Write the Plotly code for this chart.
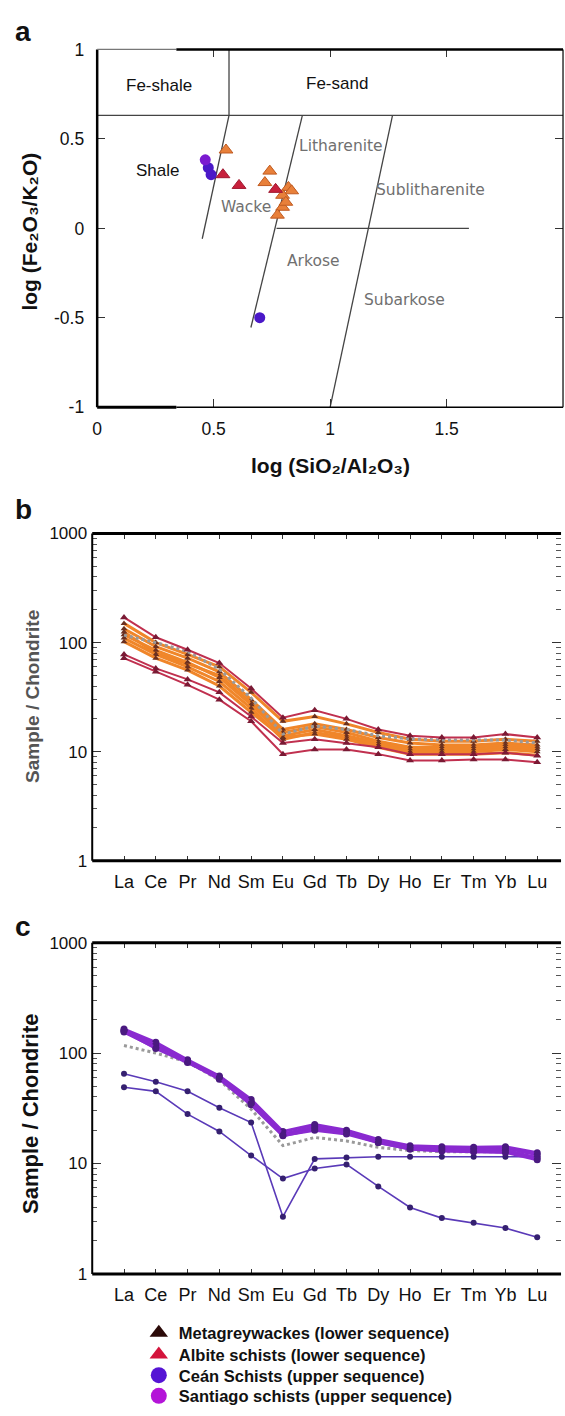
import plotly.graph_objects as go

W, H = 565, 1416

# ---------------- data ----------------
ree = ["La", "Ce", "Pr", "Nd", "Sm", "Eu", "Gd", "Tb", "Dy", "Ho", "Er", "Tm", "Yb", "Lu"]

# Panel a: Herron (1988) classification
mgw_x = [0.553, 0.741, 0.720, 0.821, 0.835, 0.796, 0.796, 0.774, 0.810]
mgw_y = [0.438, 0.320, 0.256, 0.229, 0.210, 0.185, 0.118, 0.074, 0.146]
alb_x = [0.540, 0.609, 0.766]
alb_y = [0.300, 0.240, 0.218]
cean_x = [0.477, 0.489, 0.698]
cean_y = [0.339, 0.300, -0.499]
sant_x = [0.464]
sant_y = [0.383]

# field boundaries [x0, y0, x1, y1]
bound_h_top = [0.0, 0.631, 2.0, 0.631]
bound_v_top = [0.566, 1.0, 0.566, 0.631]
bound_s1 = [0.566, 0.631, 0.451, -0.058]
bound_s2 = [0.881, 0.631, 0.660, -0.554]
bound_s3 = [1.268, 0.631, 1.000, -1.0]
bound_h0 = [0.770, 0.0, 1.596, 0.0]

field_names = ["Fe-shale", "Fe-sand", "Shale", "Litharenite", "Sublitharenite", "Wacke", "Arkose", "Subarkose"]
field_x = [0.264, 1.03, 0.26, 1.046, 1.43, 0.64, 0.927, 1.32]
field_y = [0.80, 0.81, 0.322, 0.46, 0.212, 0.118, -0.185, -0.40]
field_dark = [True, True, True, False, False, False, False, False]

# Panel b: lower sequence REE patterns (chondrite normalised)
alb_ree = [
    [170, 112, 86, 65, 38, 20.5, 24, 20, 16, 14, 13.5, 13.5, 14.5, 13.5],
    [78, 58, 46, 35, 21, 12, 13, 12, 11, 9.5, 9.5, 9.5, 9.8, 9.2],
    [72, 54, 41, 30, 19, 9.5, 10.5, 10.5, 9.5, 8.3, 8.3, 8.5, 8.5, 8.0],
]
mgw_ree = [
    [150, 100, 78, 60, 35, 19, 21, 18, 15, 13, 12.5, 12.5, 13, 12.5],
    [134, 92, 72, 54, 30, 16, 18, 16, 13.5, 12, 11.5, 11.5, 12, 11.5],
    [125, 80, 64, 50, 28, 15, 17, 15, 12.5, 11, 11, 11, 11.5, 11],
    [118, 85, 66, 48, 27, 14, 16, 14, 12, 10.5, 10.5, 10.5, 11, 10.5],
    [110, 78, 60, 44, 25, 13, 15, 13.5, 11.5, 10, 10, 10, 10.5, 10],
    [102, 72, 56, 40, 23, 13.5, 14.5, 13, 11, 9.5, 9.5, 9.5, 9.8, 9.3],
]
ref_ree = [117, 100, 83, 57, 31, 14.5, 17.2, 16, 14, 13.1, 12.8, 12.7, 12.8, 12]

# Panel c: upper sequence
sant_ree = [
    [165, 125, 87, 62, 38, 19.5, 22.5, 20, 16.5, 14.5, 14.2, 14, 14.2, 12.5],
    [160, 118, 85, 60, 36, 18.5, 21.5, 19.5, 16, 14, 13.8, 13.6, 13.8, 12],
    [155, 112, 83, 58, 34, 17.8, 20.5, 19, 15.5, 13.5, 13.2, 13, 13.2, 11.3],
    [158, 110, 82, 60, 35, 18, 20, 18.5, 15.5, 13.5, 13, 12.8, 12.6, 10.8],
]
cean_ree = [
    [65, 55, 45, 32, 23.5, 3.3, 11, 11.3, 11.5, 11.5, 11.5, 11.5, 11.5, 11.5],
    [49, 45, 28, 19.5, 11.8, 7.3, 9, 9.8, 6.2, 4.0, 3.2, 2.9, 2.6, 2.15],
]

legend_names = ["Metagreywackes (lower sequence)", "Albite schists (lower sequence)",
                "Ceán Schists (upper sequence)", "Santiago schists (upper sequence)"]
legend_colors = ["#2b0a08", "#d4143c", "#5514d4", "#b414d8"]
legend_symbols = ["triangle-up", "triangle-up", "circle", "circle"]

# ---------------- layout helpers ----------------
def dom_x(a, b):
    return [a / W, b / W]

def dom_y(top, bottom):
    return [1 - bottom / H, 1 - top / H]

FONT = "Arial, Liberation Sans, DejaVu Sans, sans-serif"
FONT_GRAY = "DejaVu Sans, Arial, sans-serif"
fig = go.Figure()

# ---- panel a ----
for b in [bound_h_top, bound_v_top, bound_s1, bound_s2, bound_s3, bound_h0]:
    fig.add_trace(go.Scatter(x=[b[0], b[2]], y=[b[1], b[3]], mode="lines",
                             line=dict(color="#444", width=1.3), showlegend=False,
                             hoverinfo="skip", xaxis="x", yaxis="y"))

fig.add_trace(go.Scatter(x=mgw_x, y=mgw_y, mode="markers", showlegend=False,
                         marker=dict(symbol="triangle-up", size=12, color="#e8803a",
                                     line=dict(color="#c05a20", width=1)),
                         xaxis="x", yaxis="y"))
fig.add_trace(go.Scatter(x=alb_x, y=alb_y, mode="markers", showlegend=False,
                         marker=dict(symbol="triangle-up", size=12, color="#c8203c",
                                     line=dict(color="#a01830", width=1)),
                         xaxis="x", yaxis="y"))
fig.add_trace(go.Scatter(x=cean_x, y=cean_y, mode="markers", showlegend=False,
                         marker=dict(symbol="circle", size=11, color="#4a18c8"),
                         xaxis="x", yaxis="y"))
fig.add_trace(go.Scatter(x=sant_x, y=sant_y, mode="markers", showlegend=False,
                         marker=dict(symbol="circle", size=11, color="#7a1ad0"),
                         xaxis="x", yaxis="y"))

# ---- panel b ----
for s in mgw_ree:
    fig.add_trace(go.Scatter(x=ree, y=s, mode="lines+markers", showlegend=False,
                             line=dict(color="#f0862a", width=3),
                             marker=dict(symbol="triangle-up", size=6, color="#6a3020"),
                             xaxis="x2", yaxis="y2"))
fig.add_trace(go.Scatter(x=ree, y=ref_ree, mode="lines", showlegend=False,
                         line=dict(color="#9a9a9a", width=3, dash="dot"),
                         xaxis="x2", yaxis="y2"))
for s in alb_ree:
    fig.add_trace(go.Scatter(x=ree, y=s, mode="lines+markers", showlegend=False,
                             line=dict(color="#c0304f", width=2),
                             marker=dict(symbol="triangle-up", size=7, color="#7a1a34"),
                             xaxis="x2", yaxis="y2"))

# ---- panel c ----
fig.add_trace(go.Scatter(x=ree, y=ref_ree, mode="lines", showlegend=False,
                         line=dict(color="#9a9a9a", width=3, dash="dot"),
                         xaxis="x3", yaxis="y3"))
for s in cean_ree:
    fig.add_trace(go.Scatter(x=ree, y=s, mode="lines+markers", showlegend=False,
                             line=dict(color="#5a3ab8", width=1.6),
                             marker=dict(symbol="circle", size=6, color="#352070"),
                             xaxis="x3", yaxis="y3"))
for s in sant_ree:
    fig.add_trace(go.Scatter(x=ree, y=s, mode="lines+markers", showlegend=False,
                             line=dict(color="#8a2ad0", width=3),
                             marker=dict(symbol="circle", size=7, color="#4a1a80"),
                             xaxis="x3", yaxis="y3"))

# ---- legend entries (one small legend per row) ----
legend_rows_px = [1342, 1364, 1385, 1406]
legend_layout = {}
for k, (n, c, sym, ypx) in enumerate(zip(legend_names, legend_colors, legend_symbols, legend_rows_px)):
    lname = "legend" if k == 0 else f"legend{k + 1}"
    fig.add_trace(go.Scatter(x=[None], y=[None], mode="markers", name=n, legend=lname,
                             marker=dict(symbol=sym, size=17, color=c),
                             xaxis="x3", yaxis="y3"))
    legend_layout[lname] = dict(x=135 / W, y=1 - ypx / H, xanchor="left", yanchor="middle",
                                font=dict(family=FONT, size=16.5, color="#111", weight="bold"),
                                bgcolor="rgba(0,0,0,0)", itemwidth=30, borderwidth=0)

# ---------------- axes ----------------
tickfont_a = dict(family=FONT, size=17.5, color="#111")
tickfont_y = dict(family=FONT, size=17, color="#111")
minor_vals = [m * 10 ** k for k in range(0, 3) for m in range(2, 10)]

fig.update_layout(
    width=W, height=H, margin=dict(l=0, r=0, t=0, b=0),
    paper_bgcolor="white", plot_bgcolor="white",
    showlegend=True,
    xaxis=dict(domain=dom_x(93, 563), range=[0, 2], tickvals=[0, 0.5, 1, 1.5],
               ticktext=["0", "0.5", "1", "1.5"], ticks="inside", ticklen=8, tickwidth=1.2,
               tickcolor="#333", mirror="ticks", showline=False, showgrid=False, zeroline=False,
               tickfont=tickfont_a, ticklabelstandoff=9, anchor="y"),
    yaxis=dict(domain=dom_y(40, 403), range=[-1, 1], tickvals=[-1, -0.5, 0, 0.5, 1],
               ticktext=["-1", "-0.5", "0", "0.5", "1"], ticks="inside", ticklen=8, tickwidth=1.2,
               tickcolor="#333", mirror="ticks", showline=False, showgrid=False, zeroline=False,
               tickfont=tickfont_a, ticklabelstandoff=12, anchor="x"),
    **legend_layout,
)
for i, (top, bot) in zip([2, 3], [(531, 863), (946, 1282)]):
    fig.update_layout(**{
        f"xaxis{i}": dict(domain=dom_x(88, 561), range=[-1, 13.75], type="category",
                          categoryorder="array", categoryarray=ree,
                          ticks="inside", ticklen=5, tickwidth=1.2, tickcolor="#333",
                          mirror="ticks", showline=False, showgrid=False, zeroline=False,
                          tickfont=dict(family=FONT, size=18, color="#111"),
                          ticklabelstandoff=8, anchor=f"y{i}"),
        f"yaxis{i}": dict(domain=dom_y(top, bot), type="log", range=[0, 3],
                          tickvals=[1, 10, 100, 1000], ticktext=["1", "10", "100", "1000"],
                          ticks="inside", ticklen=9, tickwidth=1.4, tickcolor="#333",
                          minor=dict(tickvals=minor_vals, ticks="inside", ticklen=5,
                                     tickwidth=1, tickcolor="#555"),
                          mirror="ticks", showline=False, showgrid=False, zeroline=False,
                          tickfont=tickfont_y, ticklabelstandoff=4, anchor=f"x{i}"),
    })

# ---------------- frames ----------------
shapes = []
def frame_line(xr, yr, x0, y0, x1, y1, w, c="black"):
    shapes.append(dict(type="line", xref=xr, yref=yr, x0=x0, y0=y0, x1=x1, y1=y1,
                       line=dict(color=c, width=w)))

frame_line("x domain", "y domain", 0, 0, 0, 1, 2.5)
frame_line("x domain", "y domain", 0, 1, 0.17, 1, 1.2, "#777")
frame_line("x domain", "y domain", 0.17, 1, 1, 1, 2.5)
frame_line("x domain", "y domain", 0, 0, 0.17, 0, 3)
frame_line("x domain", "y domain", 0.17, 0, 1, 0, 1.5)
frame_line("x domain", "y domain", 1, 0, 1, 1, 1.2)
for i in [2, 3]:
    frame_line(f"x{i} domain", f"y{i} domain", 0, 0, 0, 1, 2)
    frame_line(f"x{i} domain", f"y{i} domain", 0, 1, 1, 1, 3)
    frame_line(f"x{i} domain", f"y{i} domain", 0, 0, 1, 0, 3)

# ---------------- annotations ----------------
ann = []
for n, x, y, dark in zip(field_names, field_x, field_y, field_dark):
    ann.append(dict(text=n, x=x, y=y, xref="x", yref="y", showarrow=False,
                    font=dict(family=FONT if dark else FONT_GRAY, size=17 if dark else 15.5,
                              color="#111" if dark else "#707070")))

def paper_text(text, xp, yp, size, angle=0, color="#111"):
    ann.append(dict(text=text, x=xp / W, y=1 - yp / H, xref="paper", yref="paper",
                    showarrow=False, textangle=angle, xanchor="center", yanchor="middle",
                    font=dict(family=FONT, size=size, color=color, weight="bold")))

paper_text("a", 18, 22, 28)
paper_text("b", 19, 507, 28)
paper_text("c", 18, 930, 28)
paper_text("log (Fe₂O₃/K₂O)", 25, 225, 21, -90)
paper_text("log (SiO₂/Al₂O₃)", 328, 462, 21)
paper_text("Sample / Chondrite", 27, 696, 19, -90, "#555")
paper_text("Sample / Chondrite", 25, 1120, 22, -90)

fig.update_layout(shapes=shapes, annotations=ann)
fig.write_html("out.html", config={"displayModeBar": False},
               post_script="document.body.style.margin='0';document.body.style.overflow='hidden';")
